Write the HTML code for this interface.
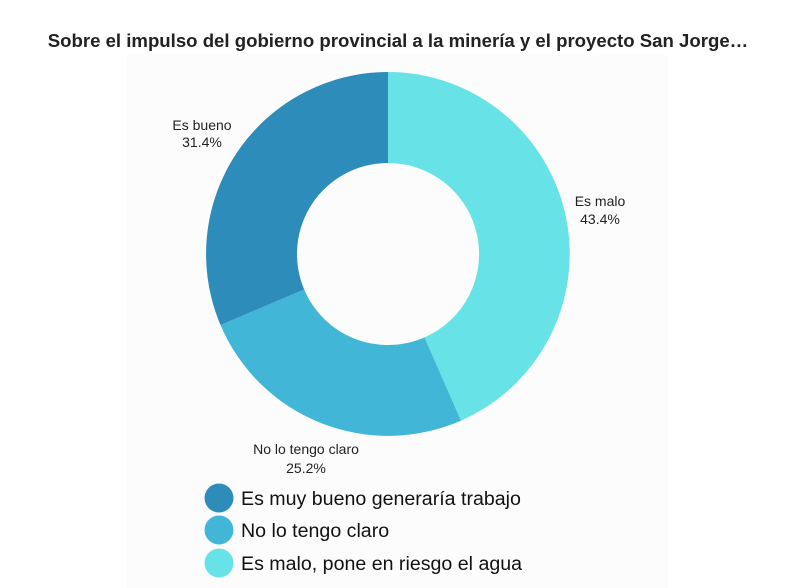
<!DOCTYPE html>
<html><head><meta charset="utf-8"><style>
html,body{margin:0;padding:0;background:#fff;width:797px;height:588px;overflow:hidden}
</style></head><body>
<svg width="797" height="588" xmlns="http://www.w3.org/2000/svg" font-family="Liberation Sans, DejaVu Sans, sans-serif">
<rect x="127" y="55" width="541" height="533" fill="#fcfcfc"/>
<text x="398" y="47" text-anchor="middle" font-size="18.6" font-weight="bold" fill="#222">Sobre el impulso del gobierno provincial a la minería y el proyecto San Jorge…</text>
<path d="M388,72 A182,182 0 0 1 461,420.6 L424.5,337.4 A91,91 0 0 0 388,163 Z" fill="#67e3e8"/>
<path d="M461,420.6 A182,182 0 0 1 220.5,325 L304.2,289.5 A91,91 0 0 0 424.5,337.4 Z" fill="#42b6d6"/>
<path d="M220.5,325 A182,182 0 0 1 388,72 L388,163 A91,91 0 0 0 304.2,289.5 Z" fill="#2e8cba"/>
<g font-size="14" fill="#222" text-anchor="middle">
<text x="202" y="130">Es bueno</text><text x="202" y="147">31.4%</text>
<text x="600" y="206">Es malo</text><text x="600" y="224">43.4%</text>
<text x="306" y="454">No lo tengo claro</text><text x="306" y="473">25.2%</text>
</g>
<circle cx="219" cy="498" r="14.5" fill="#2e8cba"/>
<circle cx="219" cy="530" r="14.5" fill="#42b6d6"/>
<circle cx="219" cy="563" r="14.5" fill="#67e3e8"/>
<g font-size="19.6" fill="#111">
<text x="241" y="505">Es muy bueno generaría trabajo</text>
<text x="241" y="537">No lo tengo claro</text>
<text x="241" y="570">Es malo, pone en riesgo el agua</text>
</g>
</svg>
</body></html>
